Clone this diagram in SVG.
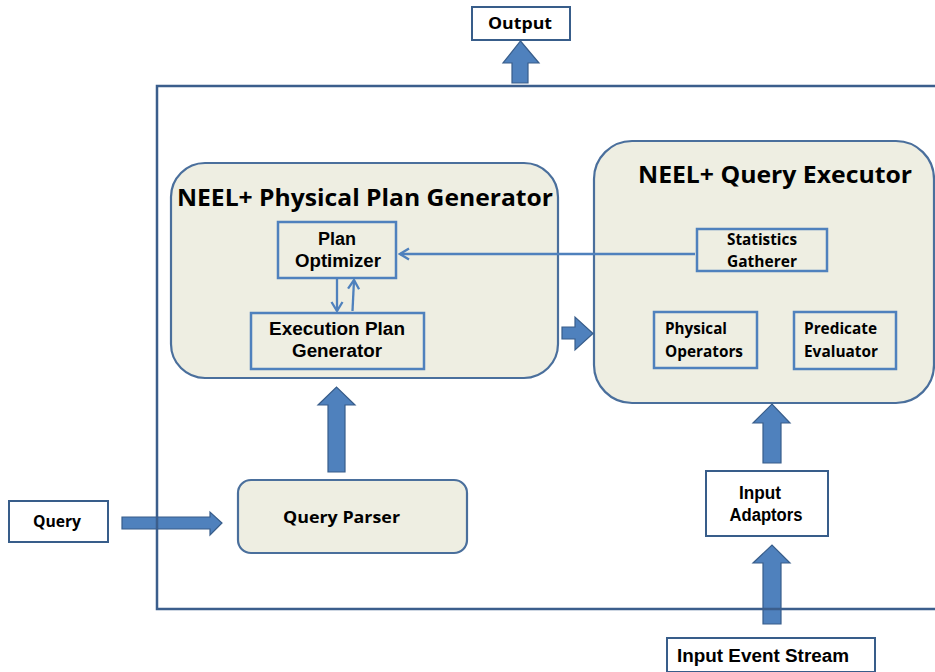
<svg xmlns="http://www.w3.org/2000/svg" width="935" height="672" viewBox="0 0 935 672">
  <style>
    .bg { fill: #ffffff; }
    .container { fill: #EEEEE2; stroke: #4A6F9C; stroke-width: 2.2; }
    .inner { fill: #EEEEE2; stroke: #4F81BD; stroke-width: 2.5; }
    .io { fill: #ffffff; stroke: #385D8A; stroke-width: 2; }
    .block { fill: #4F81BD; stroke: #385D8A; stroke-width: 1.2; stroke-linejoin: miter; }
    .thin { fill: none; stroke: #4F81BD; stroke-width: 2.3; }
    .frame { fill: none; stroke: #3B5E8C; stroke-width: 2.5; }
    .title { font-family: "Open Sans", "Noto Sans", sans-serif; font-weight: bold; font-size: 24px; fill: #000; }
    .cal { font-family: "Open Sans", "Noto Sans", sans-serif; font-weight: bold; font-size: 16px; fill: #000; }
    .ari { font-family: "Liberation Sans", Arial, sans-serif; font-weight: bold; font-size: 18px; fill: #000; }
  </style>
  <defs>
    <marker id="open" viewBox="0 0 14 14" refX="12" refY="7" markerWidth="14" markerHeight="14" markerUnits="userSpaceOnUse" orient="auto">
      <path d="M3,1.5 L12,7 L3,12.5" fill="none" stroke="#4F81BD" stroke-width="2.3"/>
    </marker>
  </defs>

  <rect class="bg" x="0" y="0" width="935" height="672"/>

  <!-- external inputs and outputs -->
  <g id="output">
    <rect class="io" x="472" y="7" width="98" height="33"/>
    <text class="cal" x="520" y="29" text-anchor="middle" textLength="64" lengthAdjust="spacingAndGlyphs">Output</text>
  </g>
  <g id="query">
    <rect class="io" x="9" y="501" width="99" height="41"/>
    <text class="cal" x="57" y="527" text-anchor="middle" textLength="48" lengthAdjust="spacingAndGlyphs">Query</text>
  </g>
  <g id="input-event-stream">
    <rect class="io" x="667" y="638" width="208" height="34"/>
    <text class="ari" x="677" y="662" font-size="19" textLength="172" lengthAdjust="spacingAndGlyphs">Input Event Stream</text>
  </g>

  <!-- physical plan generator -->
  <g id="plan-generator">
    <rect class="container" x="171" y="163" width="387" height="215" rx="34"/>
    <text class="title" x="177" y="206" textLength="376" lengthAdjust="spacingAndGlyphs">NEEL+ Physical Plan Generator</text>
  </g>
  <g id="plan-optimizer">
    <rect class="inner" x="278" y="222" width="118" height="56"/>
    <text class="ari" x="337" y="245" text-anchor="middle">Plan</text>
    <text class="ari" x="338" y="267" text-anchor="middle" textLength="86" lengthAdjust="spacingAndGlyphs">Optimizer</text>
  </g>
  <g id="execution-plan-generator">
    <rect class="inner" x="251" y="313" width="173" height="56"/>
    <text class="ari" x="337" y="335" text-anchor="middle" textLength="136" lengthAdjust="spacingAndGlyphs">Execution Plan</text>
    <text class="ari" x="337" y="357" text-anchor="middle" textLength="90" lengthAdjust="spacingAndGlyphs">Generator</text>
  </g>

  <!-- query executor -->
  <g id="query-executor">
    <rect class="container" x="594" y="141" width="340" height="262" rx="38"/>
    <text class="title" x="638" y="183" textLength="274" lengthAdjust="spacingAndGlyphs">NEEL+ Query Executor</text>
  </g>
  <g id="statistics-gatherer">
    <rect class="inner" x="697" y="229" width="130" height="42"/>
    <text class="cal" x="762" y="245" text-anchor="middle" textLength="70" lengthAdjust="spacingAndGlyphs">Statistics</text>
    <text class="cal" x="762" y="267" text-anchor="middle" textLength="70" lengthAdjust="spacingAndGlyphs">Gatherer</text>
  </g>
  <g id="physical-operators">
    <rect class="inner" x="654" y="312" width="103" height="56"/>
    <text class="cal" x="665" y="334" textLength="62" lengthAdjust="spacingAndGlyphs">Physical</text>
    <text class="cal" x="665" y="357" textLength="78" lengthAdjust="spacingAndGlyphs">Operators</text>
  </g>
  <g id="predicate-evaluator">
    <rect class="inner" x="794" y="312" width="102" height="57"/>
    <text class="cal" x="804" y="334" textLength="73" lengthAdjust="spacingAndGlyphs">Predicate</text>
    <text class="cal" x="804" y="357" textLength="74" lengthAdjust="spacingAndGlyphs">Evaluator</text>
  </g>

  <!-- parser and adaptors -->
  <g id="query-parser">
    <rect class="container" x="238" y="480" width="229" height="73" rx="13"/>
    <text class="cal" x="283" y="523" font-size="19" textLength="117" lengthAdjust="spacingAndGlyphs">Query Parser</text>
  </g>
  <g id="input-adaptors">
    <rect class="io" x="706" y="471" width="122" height="65"/>
    <text class="ari" x="760" y="499" text-anchor="middle" font-size="16" textLength="42" lengthAdjust="spacingAndGlyphs">Input</text>
    <text class="ari" x="766" y="521" text-anchor="middle" font-size="16" textLength="73" lengthAdjust="spacingAndGlyphs">Adaptors</text>
  </g>

  <!-- connectors -->
  <g id="connectors">
    <!-- block arrows -->
    <polygon class="block" points="512,83 528,83 528,63 539,63 520.5,41 503,63 512,63"/>
    <polygon class="block" points="122,517 210,517 210,512 222,523 210,535 210,529 122,529"/>
    <polygon class="block" points="328,472 345,472 345,405 355,405 336.5,387 318,405 328,405"/>
    <polygon class="block" points="562,327 575,327 575,317 593,333.5 575,350 575,339 562,339"/>
    <polygon class="block" points="763,463 781,463 781,423 790,423 772,404 753,423 763,423"/>
    <polygon class="block" points="763,624 781,624 781,563 790,563 772,545 753,563 763,563"/>
    <!-- thin arrows -->
    <line class="thin" x1="695" y1="254" x2="400" y2="254" marker-end="url(#open)"/>
    <line class="thin" x1="337" y1="279" x2="337" y2="311" marker-end="url(#open)"/>
    <line class="thin" x1="352.5" y1="311" x2="354" y2="280" marker-end="url(#open)"/>
  </g>

  <!-- system boundary -->
  <path class="frame" d="M 940 86 H 157 V 609 H 940"/>
</svg>
